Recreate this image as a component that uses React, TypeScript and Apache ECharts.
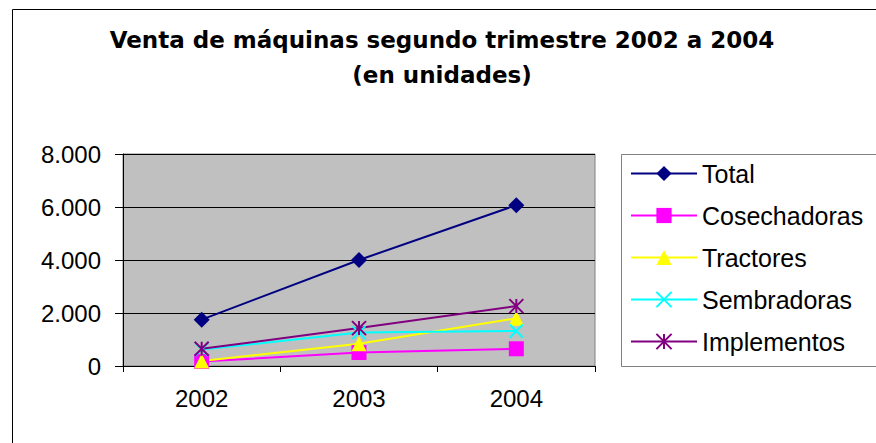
import React, { useEffect, useRef } from "react";
import * as echarts from "echarts";

const years = ["2002", "2003", "2004"];
const total = [1750, 4000, 6070];
const cosechadoras = [170, 510, 650];
const tractores = [190, 840, 1800];
const sembradoras = [620, 1260, 1320];
const implementos = [650, 1430, 2260];

const titleLines = ["Venta de máquinas segundo trimestre 2002 a 2004", "(en unidades)"];

const FONT = "'Liberation Sans', Arial, sans-serif";

function fmt(v: number) {
  return String(v).replace(/\B(?=(\d{3})+(?!\d))/g, ".");
}

export default function App() {
  const ref = useRef<HTMLDivElement>(null);
  useEffect(() => {
    if (!ref.current) return;
    const chart = echarts.init(ref.current, undefined, { renderer: "svg" });
    const mk = (
      name: string,
      data: number[],
      color: string,
      symbol: string,
      size: number,
      stroked: boolean
    ) => ({
      name,
      type: "line",
      data,
      symbol,
      symbolSize: size,
      showSymbol: true,
      lineStyle: { color, width: 2 },
      itemStyle: stroked
        ? { color, borderColor: color, borderWidth: 2 }
        : { color, borderWidth: 0 },
      emphasis: { disabled: true },
    });
    chart.setOption({
      animation: false,
      backgroundColor: "#ffffff",
      title: {
        text: titleLines.join("\n"),
        left: "center",
        top: 14,
        padding: 0,
        textStyle: {
          fontFamily: "'DejaVu Sans', sans-serif",
          fontWeight: "bold",
          fontSize: 23,
          lineHeight: 35,
          color: "#000",
        },
      },
      graphic: [
        {
          type: "rect",
          z: -10,
          silent: true,
          shape: { x: 4.5, y: 1.5, width: 1200, height: 1200 },
          style: { fill: "none", stroke: "#000", lineWidth: 1 },
        },
        {
          type: "rect",
          z: -5,
          silent: true,
          shape: { x: 613.5, y: 146.5, width: 400, height: 212 },
          style: { fill: "#fff", stroke: "#808080", lineWidth: 1 },
        },
      ],
      legend: {
        orient: "vertical",
        left: 622,
        top: 153,
        padding: 0,
        itemWidth: 66,
        itemHeight: 19,
        itemGap: 17,
        textStyle: { fontFamily: FONT, fontSize: 25, lineHeight: 25, color: "#000" },
        data: ["Total", "Cosechadoras", "Tractores", "Sembradoras", "Implementos"],
      },
      grid: {
        left: 115,
        top: 146,
        right: 281,
        bottom: 77,
        show: true,
        backgroundColor: "#c0c0c0",
        borderColor: "#808080",
        borderWidth: 1,
      },
      xAxis: {
        type: "category",
        data: years,
        boundaryGap: true,
        axisLine: { show: true, lineStyle: { color: "#000", width: 1 } },
        axisTick: { show: true, length: 6, interval: 0, lineStyle: { color: "#000" } },
        axisLabel: { fontFamily: FONT, fontSize: 24, color: "#000", margin: 20 },
        splitLine: { show: false },
      },
      yAxis: {
        type: "value",
        min: 0,
        max: 8000,
        interval: 2000,
        axisLine: { show: true, lineStyle: { color: "#000", width: 1 } },
        axisTick: { show: true, length: 8, inside: false, lineStyle: { color: "#000" } },
        axisLabel: {
          fontFamily: FONT,
          fontSize: 24,
          color: "#000",
          margin: 22,
          formatter: (v: number) => fmt(v),
        },
        splitLine: { show: true, lineStyle: { color: "#000", width: 1 } },
      },
      series: [
        mk("Total", total, "#000080", "diamond", 16, false),
        mk("Cosechadoras", cosechadoras, "#ff00ff", "rect", 15, false),
        mk("Tractores", tractores, "#ffff00", "triangle", 15, false),
        mk("Sembradoras", sembradoras, "#00ffff", "path://M0,0L10,10M10,0L0,10", 13, true),
        mk(
          "Implementos",
          implementos,
          "#800080",
          "path://M0,0L10,10M10,0L0,10M5,0L5,10",
          14,
          true
        ),
      ],
    });
    return () => chart.dispose();
  }, []);
  return (
    <div
      ref={ref}
      style={{ position: "absolute", left: 8, top: 8, width: 868, height: 435 }}
    />
  );
}
